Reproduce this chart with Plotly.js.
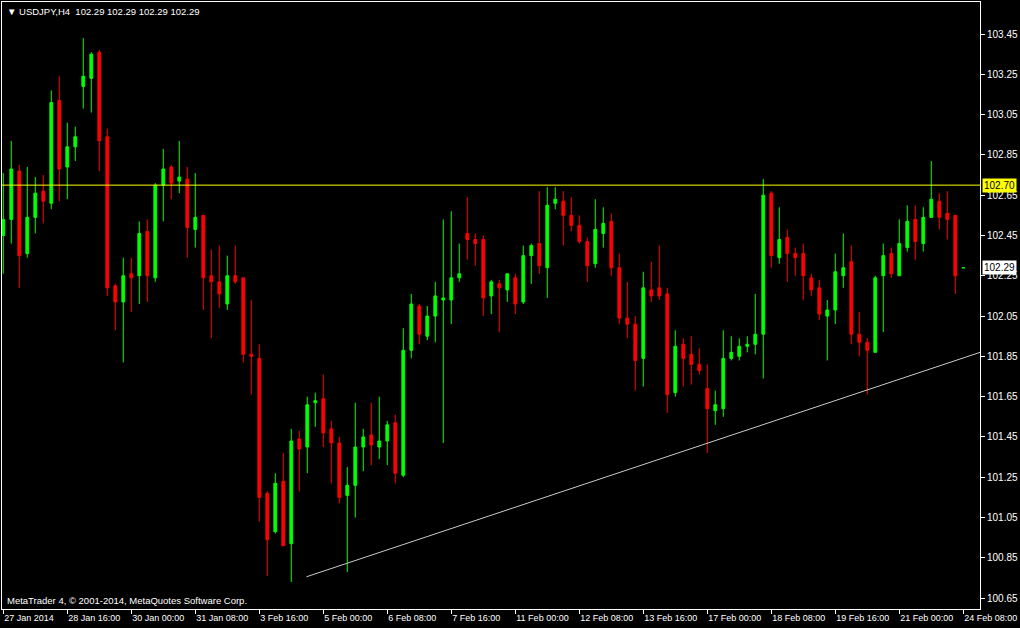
<!DOCTYPE html>
<html>
<head>
<meta charset="utf-8">
<script src="https://cdn.plot.ly/plotly-3.0.1.min.js"></script>
<style>
html,body{margin:0;padding:0;background:#000;}
#chart{width:1020px;height:628px;}
</style>
</head>
<body>
<div id="chart"></div>
<script>
// USDJPY H4 candles (27 Jan 2014 08:00 ... 24 Feb 2014 08:00)
const open = [102.45,102.53,102.77,102.36,102.54,102.67,102.61,103.12,102.79,102.89,
103.19,103.23,103.36,102.94,102.20,102.12,102.26,102.25,102.47,102.24,
102.70,102.79,102.72,102.73,102.48,102.55,102.25,102.22,102.11,102.25,
102.24,101.86,101.84,101.17,100.98,101.23,100.92,101.44,101.40,101.62,
101.64,101.49,101.42,101.16,101.21,101.40,101.46,101.40,101.43,101.52,
101.26,101.88,102.10,101.95,102.05,102.13,102.13,102.24,102.46,102.43,
102.43,102.15,102.21,102.18,102.24,102.12,102.35,102.41,102.29,102.61,
102.62,102.55,102.50,102.42,102.31,102.46,102.52,102.29,102.04,102.01,
101.84,102.18,102.19,102.16,101.67,101.91,101.86,101.81,101.69,101.58,
101.59,101.84,101.85,101.90,101.91,101.96,102.66,102.34,102.44,102.36,
102.36,102.24,102.19,102.05,102.08,102.25,102.32,101.96,101.92,101.87,
102.25,102.36,102.25,102.39,102.53,102.41,102.54,102.62,102.56,102.55,
102.29];
const high = [102.76,102.92,102.80,102.79,102.74,102.75,103.17,103.24,103.01,102.99,
103.43,103.36,103.37,102.98,102.21,102.34,102.34,102.52,102.53,102.71,
102.88,102.80,102.92,102.79,102.76,102.55,102.38,102.40,102.35,102.40,
102.24,102.13,101.91,101.18,101.27,101.37,101.49,101.48,101.65,101.67,
101.76,101.53,101.45,101.30,101.62,101.49,101.62,101.65,101.53,101.56,
101.99,102.16,102.11,102.10,102.22,102.53,102.57,102.41,102.64,102.46,
102.45,102.23,102.23,102.26,102.26,102.40,102.41,102.67,102.69,102.69,
102.67,102.64,102.55,102.44,102.63,102.59,102.56,102.36,102.22,102.05,
102.27,102.32,102.40,102.19,101.98,101.94,101.95,101.89,101.81,101.68,
101.98,101.95,101.94,101.95,102.16,102.73,102.67,102.59,102.48,102.39,
102.41,102.26,102.23,102.13,102.36,102.46,102.40,102.07,101.94,102.25,
102.41,102.39,102.53,102.60,102.60,102.59,102.82,102.66,102.67,102.55,
102.29];
const low = [102.26,102.41,102.19,102.34,102.46,102.51,102.58,102.62,102.63,102.82,
103.08,103.06,102.77,102.15,101.98,101.82,102.07,102.11,102.12,102.22,
102.52,102.63,102.66,102.34,102.39,102.08,101.94,102.09,102.08,102.21,
101.82,101.66,101.03,100.76,100.97,100.91,100.73,101.18,101.27,101.50,
101.40,101.22,101.12,100.78,101.05,101.28,101.31,101.34,101.31,101.22,
101.25,101.84,101.91,101.93,101.92,101.42,102.01,102.22,102.33,102.30,
102.05,102.06,101.97,102.12,102.06,102.11,102.21,102.26,102.14,102.58,
102.40,102.47,102.41,102.22,102.29,102.39,102.25,102.01,101.94,101.68,
101.70,102.12,102.13,101.57,101.65,101.70,101.71,101.76,101.37,101.51,
101.55,101.83,101.83,101.87,101.86,101.74,102.29,102.31,102.22,102.25,
102.13,102.15,102.03,101.83,102.01,102.19,101.91,101.85,101.66,101.87,
101.97,102.24,102.25,102.37,102.33,102.37,102.54,102.48,102.43,102.16,
102.29];
const close = [102.53,102.78,102.35,102.54,102.66,102.62,103.11,102.78,102.89,102.94,
103.24,103.35,102.92,102.19,102.12,102.25,102.24,102.46,102.25,102.70,
102.78,102.71,102.74,102.49,102.54,102.24,102.22,102.16,102.25,102.22,
101.86,101.85,101.15,100.94,101.22,100.91,101.43,101.39,101.61,101.63,
101.47,101.42,101.15,101.21,101.40,101.45,101.41,101.43,101.51,101.27,
101.88,102.11,101.96,102.05,102.15,102.14,102.24,102.26,102.43,102.41,
102.14,102.22,102.19,102.26,102.11,102.35,102.40,102.30,102.60,102.63,
102.55,102.50,102.42,102.30,102.48,102.51,102.29,102.04,102.01,101.83,
102.19,102.15,102.15,101.66,101.90,101.84,101.81,101.78,101.59,101.61,
101.84,101.87,101.90,101.91,101.96,102.65,102.35,102.43,102.36,102.34,
102.25,102.18,102.06,102.08,102.27,102.29,101.96,101.92,101.88,102.24,
102.35,102.26,102.41,102.52,102.42,102.54,102.63,102.54,102.53,102.25,
102.29];

// time axis labels, one every 8 bars
const timeLabels = ["27 Jan 2014","28 Jan 16:00","30 Jan 00:00","31 Jan 08:00","3 Feb 16:00",
"5 Feb 00:00","6 Feb 08:00","7 Feb 16:00","11 Feb 00:00","12 Feb 08:00","13 Feb 16:00",
"17 Feb 00:00","18 Feb 08:00","19 Feb 16:00","21 Feb 00:00","24 Feb 08:00"];
const labelStep = 8;

// price axis ticks
const priceTicks = [103.45,103.25,103.05,102.85,102.65,102.45,102.25,102.05,101.85,101.65,101.45,101.25,101.05,100.85,100.65];

// horizontal level and trend line (chart objects)
const levelPrice = [102.70];
const trendX = [37.9, 122.1];
const trendY = [100.756, 101.870];

const bid = 102.29;
const symbolTitle = "USDJPY,H4  102.29 102.29 102.29 102.29";
const copyright = "MetaTrader 4, \u00A9 2001-2014, MetaQuotes Software Corp.";

const xIdx = open.map((_, i) => i);
const tickIdx = timeLabels.map((_, i) => i * labelStep);

const FONT = "Liberation Sans, Arial, sans-serif";

const traces = [
  {
    type: "scatter", mode: "lines", x: trendX, y: trendY,
    line: {color: "#c8c8c8", width: 1}, hoverinfo: "skip", showlegend: false
  },
  {
    type: "candlestick", x: xIdx, open: open, high: high, low: low, close: close,
    increasing: {line: {color: "#00ff00", width: 1}, fillcolor: "#00ff00"},
    decreasing: {line: {color: "#ff0000", width: 1}, fillcolor: "#ff0000"},
    whiskerwidth: 0, hoverinfo: "skip", showlegend: false
  }
];

const layout = {
  width: 1020, height: 628,
  margin: {l: 2, r: 40, t: 2, b: 19, pad: 0},
  paper_bgcolor: "#000000", plot_bgcolor: "#000000",
  showlegend: false,
  boxgap: 0.5,
  font: {family: FONT, size: 10, color: "#ffffff"},
  xaxis: {
    range: [-0.16, 122.09], autorange: false,
    rangeslider: {visible: false},
    showgrid: false, zeroline: false,
    showline: true, linecolor: "#ffffff", linewidth: 1, mirror: true,
    tickmode: "array", tickvals: tickIdx, ticktext: timeLabels,
    ticks: "outside", ticklen: 4, tickcolor: "#ffffff", tickwidth: 1,
    ticklabelposition: "outside right", tickangle: 0, ticklabeloverflow: "allow",
    tickfont: {family: FONT, size: 9, color: "#ffffff"},
    fixedrange: true
  },
  yaxis: {
    side: "right",
    range: [100.596, 103.609], autorange: false,
    showgrid: false, zeroline: false,
    showline: true, linecolor: "#ffffff", linewidth: 1, mirror: true,
    tickmode: "array", tickvals: priceTicks, ticktext: priceTicks.map(v => v.toFixed(2)),
    ticks: "outside", ticklen: 4, tickcolor: "#ffffff", tickwidth: 1,
    tickfont: {family: FONT, size: 10, color: "#ffffff"},
    fixedrange: true
  },
  shapes: levelPrice.map(p => ({
    type: "line", xref: "paper", x0: 0, x1: 1, yref: "y", y0: p, y1: p,
    line: {color: "#ffff00", width: 1}
  })),
  annotations: [
    {xref: "paper", yref: "paper", x: 0, y: 1, xanchor: "left", yanchor: "top",
     xshift: 3, yshift: -2, showarrow: false,
     text: "\u25BC " + symbolTitle, font: {family: FONT, size: 9.5, color: "#ffffff"}},
    {xref: "paper", yref: "paper", x: 0, y: 0, xanchor: "left", yanchor: "bottom",
     xshift: 3, yshift: 1, showarrow: false,
     text: copyright, font: {family: FONT, size: 9.5, color: "#ffffff"}},
    ...levelPrice.map(p => ({
      xref: "paper", yref: "y", x: 1, y: p, xanchor: "left", yanchor: "middle",
      xshift: 2, showarrow: false, text: p.toFixed(2), bgcolor: "#ffff00",
      borderpad: 1, font: {family: FONT, size: 10, color: "#000000"}
    })),
    {xref: "paper", yref: "y", x: 1, y: bid, xanchor: "left", yanchor: "middle",
     xshift: 2, showarrow: false, text: bid.toFixed(2), bgcolor: "#ffffff",
     borderpad: 1, font: {family: FONT, size: 10, color: "#000000"}}
  ]
};

Plotly.newPlot("chart", traces, layout, {staticPlot: true, displayModeBar: false});
</script>
</body>
</html>
